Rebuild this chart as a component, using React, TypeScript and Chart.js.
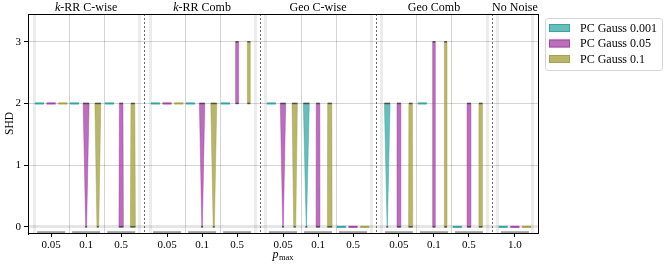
import React, { useEffect, useRef } from "react";
import { Chart, registerables } from "chart.js";
Chart.register(...registerables);

const GROUPS = ["k-RR C-wise", "k-RR Comb", "Geo C-wise", "Geo Comb", "No Noise"];
const GROUP_P = [
  ["0.05", "0.1", "0.5"],
  ["0.05", "0.1", "0.5"],
  ["0.05", "0.1", "0.5"],
  ["0.05", "0.1", "0.5"],
  ["1.0"],
];
const SERIES = ["PC Gauss 0.001", "PC Gauss 0.05", "PC Gauss 0.1"];
const Y_TICKS = [0, 1, 2, 3];

// Each entry: [min SHD, max SHD, relative density at min, relative density at max]
const GAUSS_0001 = [
  [2, 2, 0, 0], [2, 2, 0, 0], [2, 2, 0, 0],
  [2, 2, 0, 0], [2, 2, 0, 0], [2, 2, 0, 0],
  [2, 2, 0, 0], [0, 2, 0.05, 1.0], [0, 0, 0, 0],
  [0, 2, 0.05, 0.95], [2, 2, 0, 0], [0, 0, 0, 0],
  [0, 0, 0, 0],
];
const GAUSS_005 = [
  [2, 2, 0, 0], [0, 2, 0.15, 1.0], [0, 2, 0.75, 0.6],
  [2, 2, 0, 0], [0, 2, 0.1, 0.9], [2, 3, 0.5, 0.5],
  [0, 2, 0.1, 0.9], [0, 2, 0.65, 0.6], [0, 0, 0, 0],
  [0, 2, 0.65, 0.65], [0, 3, 0.45, 0.45], [0, 2, 0.65, 0.65],
  [0, 0, 0, 0],
];
const GAUSS_01 = [
  [2, 2, 0, 0], [0, 2, 0.3, 1.0], [0, 2, 0.85, 0.65],
  [2, 2, 0, 0], [0, 2, 0.2, 1.0], [2, 3, 0.5, 0.5],
  [0, 2, 0.35, 0.9], [0, 2, 0.8, 0.7], [0, 0, 0, 0],
  [0, 2, 0.7, 0.6], [0, 3, 0.45, 0.45], [0, 2, 0.6, 0.6],
  [0, 0, 0, 0],
];
const SERIES_DATA = [GAUSS_0001, GAUSS_005, GAUSS_01];

const BASE = ["rgb(30,158,154)", "rgb(158,48,158)", "rgb(156,154,52)"];
const FILL = ["rgba(30,158,154,0.68)", "rgba(158,48,158,0.7)", "rgba(156,154,52,0.72)"];

const GAP = 1.31;
const GROUP_STARTS: number[] = [];
const POSITIONS: number[] = [];
const X_LABELS: string[] = [];
{
  let st = 0;
  GROUP_P.forEach((ps) => {
    GROUP_STARTS.push(st);
    ps.forEach((p, i) => {
      POSITIONS.push(st + i);
      X_LABELS.push(p);
    });
    st = st + ps.length - 1 + GAP;
  });
}

const SERIF = "'Liberation Serif', 'DejaVu Serif', serif";
const OFFSETS = [-0.334, 0, 0.334];
const DASH_W = 0.26;
const VIOLIN_MAX_W = 0.17;

function line(ctx: CanvasRenderingContext2D, x1: number, y1: number, x2: number, y2: number) {
  ctx.beginPath();
  ctx.moveTo(x1, y1);
  ctx.lineTo(x2, y2);
  ctx.stroke();
}

const plugin = {
  id: "violins",
  beforeDatasetsDraw(chart: any) {
    const { ctx, chartArea: a, scales } = chart;
    const x = scales.x;
    const y = scales.y;
    ctx.save();
    GROUP_STARTS.forEach((st: number, g: number) => {
      const n = GROUP_P[g].length;
      for (let k = 0; k <= n; k++) {
        const v = st - 0.5 + k;
        const edge = k === 0 || k === n;
        ctx.strokeStyle = edge ? "rgba(0,0,0,0.075)" : "rgba(0,0,0,0.17)";
        ctx.lineWidth = edge ? 3 : 1;
        const px = Math.round(x.getPixelForValue(v)) + 0.5;
        line(ctx, px, a.top, px, a.bottom);
      }
      for (let i = 0; i < n; i++) {
        const c = st + i;
        ctx.strokeStyle = "#8c8c8c";
        ctx.lineWidth = 1.5;
        const py = y.getPixelForValue(-0.085);
        line(ctx, x.getPixelForValue(c - 0.4), py, x.getPixelForValue(c + 0.4), py);
      }
    });
    ctx.strokeStyle = "#444";
    ctx.lineWidth = 0.8;
    ctx.setLineDash([2, 2]);
    for (let g = 0; g < GROUP_STARTS.length - 1; g++) {
      const endV = GROUP_STARTS[g] + GROUP_P[g].length - 1 + 0.5;
      const nextV = GROUP_STARTS[g + 1] - 0.5;
      const px = Math.round(x.getPixelForValue((endV + nextV) / 2)) + 0.5;
      line(ctx, px, a.top, px, a.bottom);
    }
    ctx.setLineDash([]);
    ctx.restore();
  },
  afterDatasetsDraw(chart: any) {
    const { ctx, chartArea: a, scales } = chart;
    const x = scales.x;
    const y = scales.y;
    ctx.save();
    SERIES_DATA.forEach((data, s) => {
      data.forEach((d: number[], ci: number) => {
        const c = POSITIONS[ci] + OFFSETS[s];
        const [lo, hi, dLo, dHi] = d;
        const cx = x.getPixelForValue(c);
        if (lo === hi) {
          ctx.strokeStyle = BASE[s];
          ctx.globalAlpha = 0.9;
          ctx.lineWidth = 2;
          const py = y.getPixelForValue(lo);
          line(ctx, x.getPixelForValue(c - DASH_W / 2), py, x.getPixelForValue(c + DASH_W / 2), py);
          ctx.globalAlpha = 1;
          return;
        }
        const unitPx = x.getPixelForValue(1) - x.getPixelForValue(0);
        const wLo = dLo * VIOLIN_MAX_W * unitPx;
        const wHi = dHi * VIOLIN_MAX_W * unitPx;
        const yLo = y.getPixelForValue(lo);
        const yHi = y.getPixelForValue(hi);
        ctx.fillStyle = FILL[s];
        ctx.beginPath();
        ctx.moveTo(cx - wLo / 2, yLo);
        ctx.lineTo(cx + wLo / 2, yLo);
        ctx.lineTo(cx + wHi / 2, yHi);
        ctx.lineTo(cx - wHi / 2, yHi);
        ctx.closePath();
        ctx.fill();
        ctx.strokeStyle = FILL[s];
        ctx.lineWidth = 0.6;
        ctx.stroke();
        ctx.strokeStyle = "rgba(60,60,60,0.85)";
        ctx.lineWidth = 1.5;
        const cLo = Math.max(wLo, 2);
        const cHi = Math.max(wHi, 2);
        line(ctx, cx - cLo / 2, yLo, cx + cLo / 2, yLo);
        line(ctx, cx - cHi / 2, yHi, cx + cHi / 2, yHi);
      });
    });

    // frame top/right
    ctx.strokeStyle = "#000";
    ctx.lineWidth = 1;
    line(ctx, a.left, Math.round(a.top) + 0.5, a.right + 0.5, Math.round(a.top) + 0.5);
    line(ctx, Math.round(a.right) + 0.5, a.top, Math.round(a.right) + 0.5, a.bottom);

    // group titles
    ctx.fillStyle = "#000";
    ctx.textBaseline = "alphabetic";
    GROUPS.forEach((title, g) => {
      const n = GROUP_P[g].length;
      const mid = x.getPixelForValue(GROUP_STARTS[g] + (n - 1) / 2);
      const ty = 11;
      if (title.startsWith("k-")) {
        ctx.font = `italic 12px ${SERIF}`;
        const w1 = ctx.measureText("k").width;
        ctx.font = `12px ${SERIF}`;
        const rest = title.slice(1);
        const w2 = ctx.measureText(rest).width;
        const x0 = mid - (w1 + w2) / 2;
        ctx.font = `italic 12px ${SERIF}`;
        ctx.textAlign = "left";
        ctx.fillText("k", x0, ty);
        ctx.font = `12px ${SERIF}`;
        ctx.fillText(rest, x0 + w1, ty);
      } else {
        ctx.font = `12px ${SERIF}`;
        ctx.textAlign = "center";
        ctx.fillText(title, mid, ty);
      }
    });

    // x label p_max
    {
      const cxl = (a.left + a.right) / 2;
      ctx.font = `italic 12px ${SERIF}`;
      const wp = ctx.measureText("p").width;
      ctx.font = `8.5px ${SERIF}`;
      const wm = ctx.measureText("max").width;
      const x0 = cxl - (wp + wm + 0.5) / 2;
      ctx.textAlign = "left";
      ctx.font = `italic 12px ${SERIF}`;
      ctx.fillText("p", x0, 258);
      ctx.font = `8.5px ${SERIF}`;
      ctx.fillText("max", x0 + wp + 0.5, 260);
    }

    // y label
    ctx.save();
    ctx.translate(10, (a.top + a.bottom) / 2);
    ctx.rotate(-Math.PI / 2);
    ctx.font = `11.5px ${SERIF}`;
    ctx.textAlign = "center";
    ctx.textBaseline = "middle";
    ctx.fillText("SHD", 0, 0);
    ctx.restore();

    // legend
    {
      const lx = 545, ly = 18, lw = 117, lh = 52, r = 3;
      ctx.fillStyle = "rgba(255,255,255,0.9)";
      ctx.strokeStyle = "#d4d4d4";
      ctx.lineWidth = 1;
      ctx.beginPath();
      ctx.moveTo(lx + r + 0.5, ly + 0.5);
      ctx.arcTo(lx + lw + 0.5, ly + 0.5, lx + lw + 0.5, ly + lh + 0.5, r);
      ctx.arcTo(lx + lw + 0.5, ly + lh + 0.5, lx + 0.5, ly + lh + 0.5, r);
      ctx.arcTo(lx + 0.5, ly + lh + 0.5, lx + 0.5, ly + 0.5, r);
      ctx.arcTo(lx + 0.5, ly + 0.5, lx + lw + 0.5, ly + 0.5, r);
      ctx.closePath();
      ctx.fill();
      ctx.stroke();
      SERIES.forEach((name, s) => {
        const cy = 28 + s * 15.5;
        ctx.fillStyle = FILL[s];
        ctx.fillRect(549, cy - 4, 21, 8);
        ctx.strokeStyle = FILL[s];
        ctx.lineWidth = 1;
        ctx.strokeRect(549.5, cy - 3.5, 20, 7);
        ctx.fillStyle = "#000";
        ctx.font = `12px ${SERIF}`;
        ctx.textAlign = "left";
        ctx.textBaseline = "middle";
        ctx.fillText(name, 580, cy + 0.5);
      });
    }
    ctx.restore();
  },
};

export default function App() {
  const ref = useRef<HTMLCanvasElement | null>(null);
  useEffect(() => {
    document.body.style.margin = "0";
    const canvas = ref.current;
    if (!canvas) return;
    const font = { family: SERIF, size: 11 };
    const chart = new Chart(canvas, {
      type: "scatter",
      data: {
        datasets: SERIES.map((name, s) => ({
          label: name,
          data: SERIES_DATA[s].map((d: number[], ci: number) => ({ x: POSITIONS[ci] + OFFSETS[s], y: d[1] })),
          pointRadius: 0,
          showLine: false,
          backgroundColor: FILL[s],
          borderColor: BASE[s],
        })),
      },
      options: {
        responsive: false,
        animation: false,
        events: [],
        layout: { padding: { left: 0, right: 126, top: 14, bottom: 0 } },
        plugins: { legend: { display: false }, tooltip: { enabled: false }, title: { display: false } },
        scales: {
          x: {
            type: "linear",
            min: -0.66,
            max: 13.9,
            afterBuildTicks: (s: any) => {
              s.ticks = POSITIONS.map((v) => ({ value: v }));
            },
            afterFit: (s: any) => {
              s.height = 33;
            },
            ticks: {
              callback: (_v: any, i: number) => X_LABELS[i],
              autoSkip: false,
              maxRotation: 0,
              minRotation: 0,
              font,
              color: "#000",
              padding: 2,
            },
            grid: { drawOnChartArea: false, drawTicks: true, tickLength: 4, tickColor: "#000", tickWidth: 1 },
            border: { color: "#000", width: 1 },
          },
          y: {
            type: "linear",
            min: -0.1,
            max: 3.45,
            afterBuildTicks: (s: any) => {
              s.ticks = Y_TICKS.map((v) => ({ value: v }));
            },
            afterFit: (s: any) => {
              s.width = 28;
            },
            ticks: { font, color: "#000", padding: 3 },
            grid: {
              color: (c: any) => (c.tick && c.tick.value === 0 ? "rgba(0,0,0,0.1)" : "rgba(0,0,0,0.17)"),
              lineWidth: (c: any) => (c.tick && c.tick.value === 0 ? 3 : 1),
              tickLength: 4,
              tickColor: "#000",
              tickWidth: 1,
            },
            border: { color: "#000", width: 1 },
          },
        },
      },
      plugins: [plugin],
    } as any);
    return () => chart.destroy();
  }, []);
  return <canvas ref={ref} width={664} height={266} style={{ display: "block", width: 664, height: 266 }} />;
}
